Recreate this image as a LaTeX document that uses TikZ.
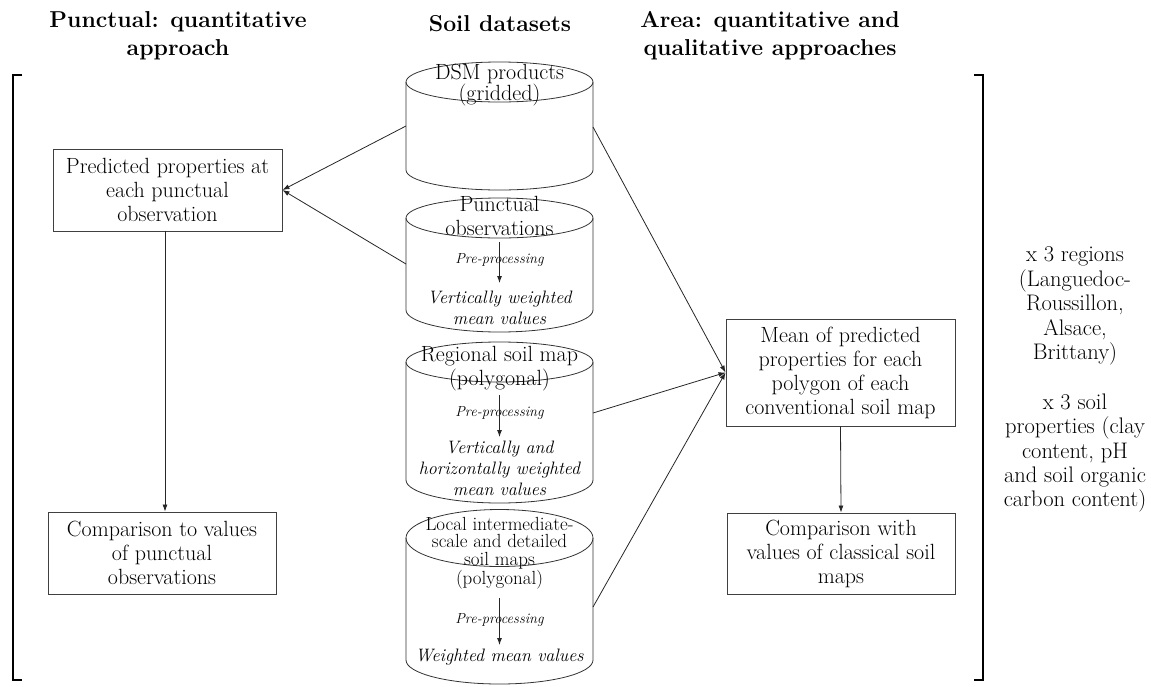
\documentclass[tikz,border=0pt]{standalone}
\usetikzlibrary{arrows.meta}
\begin{document}
\begin{tikzpicture}[x=1pt,y=-1pt,
  line/.style={draw=black!85, line width=0.8pt},
  arr/.style={line, -{Latex[length=7pt,width=5pt]}},
  cyl/.style={draw=black!80, line width=0.8pt},
  box/.style={draw=black!75, line width=0.9pt, align=center, inner sep=0pt,
    font=\fontsize{22}{24}\selectfont},
  title/.style={align=center, font=\fontsize{23}{28}\selectfont\bfseries},
  ctext/.style={align=center, inner sep=0pt, font=\fontsize{22}{24}\selectfont},
  itext/.style={align=center, inner sep=0pt, font=\fontsize{18}{21}\selectfont\itshape},
  ptext/.style={align=center, inner sep=0pt, font=\fontsize{14.5}{16}\selectfont\itshape},
  brk/.style={draw=black, line width=2.6pt},
  side/.style={align=center, inner sep=0pt, font=\fontsize{22.5}{24.4}\selectfont}]
\useasboundingbox (0,0) rectangle (1151,686);

\newcommand\dbcyl[4]{%
  \draw[cyl] (499.5,#1) ellipse [x radius=93.5, y radius=#2];
  \draw[cyl] (406,#1) -- (406,#3) arc[start angle=180,end angle=0,x radius=93.5,y radius=#4] -- (593,#1);
}

% titles
\node[title] (t1) at (178,36) {Punctual: quantitative\\approach};
\node[title] (t2) at (500,24) {Soil datasets};
\node[title] (t3) at (770,36) {Area: quantitative and\\qualitative approaches};

% brackets
\draw[brk] (22,75) -- (13,75) -- (13,680) -- (22,680);
\draw[brk] (974,75) -- (983,75) -- (983,680) -- (974,680);

% cylinders
\dbcyl{82}{20}{170}{20}
\dbcyl{218}{20}{310}{22}
\dbcyl{362}{20}{480}{23}
\dbcyl{538}{28.5}{660}{24}

% cylinder texts
\node[ctext, font=\fontsize{22}{20}\selectfont] (dsm) at (499.5,85) {DSM products\\(gridded)};

\node[ctext] (pun) at (499.5,215.5) {Punctual\\observations};
\node[ptext] (pp1) at (499.5,260) {Pre-processing};
\node[itext] (vw) at (499.5,308) {Vertically weighted\\mean values};

\node[ctext] (reg) at (499.5,369) {Regional soil map\\(polygonal)};
\node[ptext] (pp2) at (499.5,413) {Pre-processing};
\node[itext] (vh) at (499.5,468) {Vertically and\\horizontally weighted\\mean values};

\node[ctext, font=\fontsize{19}{17.5}\selectfont] (loc) at (499.5,553) {Local intermediate-\\scale and detailed\\soil maps\\(polygonal)};
\node[ptext] (pp3) at (499.5,620) {Pre-processing};
\node[itext] (wm) at (499.5,657) {Weighted mean values};

% inner arrows
\coordinate (a1s) at (499.5,242); \coordinate (a1e) at (499.5,283);
\coordinate (a2s) at (499.5,395); \coordinate (a2e) at (499.5,437);
\coordinate (a3s) at (499.5,598); \coordinate (a3e) at (499.5,645);
\draw[arr] (a1s) -- (a1e);
\draw[arr] (a2s) -- (a2e);
\draw[arr] (a3s) -- (a3e);

% boxes
\node[box, minimum width=229pt, minimum height=82pt] (pred) at (167.5,190) {Predicted properties at\\each punctual\\observation};
\node[box, minimum width=228pt, minimum height=82pt] (comp1) at (162,553) {Comparison to values\\of punctual\\observations};
\node[box, minimum width=229pt, minimum height=107pt] (mean) at (840.5,372.5) {Mean of predicted\\properties for each\\polygon of each\\conventional soil map};
\node[box, minimum width=228pt, minimum height=81pt] (comp2) at (841,553.5) {Comparison with\\values of classical soil\\maps};

% side texts
\node[side] (reg3) at (1075,306) {x 3 regions\\(Languedoc-\\Roussillon,\\Alsace,\\Brittany)};
\node[side] (prop3) at (1075,453) {x 3 soil\\properties (clay\\content, pH\\and soil organic\\carbon content)};

% connection points on cylinders
\coordinate (dsmL) at (406,126);
\coordinate (dsmR) at (593,127);
\coordinate (punL) at (406,264);
\coordinate (regR) at (593,413);
\coordinate (locR) at (593,607);

% connectors
\draw[arr] (dsmL) -- (pred.east);
\draw[arr] (punL) -- (pred.east);
\draw[arr] ([xshift=-2.5pt]pred.south) -- ([xshift=-2.5pt]pred.south |- comp1.north);
\draw[arr] (dsmR) -- (mean.west);
\draw[arr] (regR) -- (mean.west);
\draw[arr] (locR) -- (mean.west);
\draw[arr] (mean.south) -- (comp2.north);
\end{tikzpicture}
\end{document}
